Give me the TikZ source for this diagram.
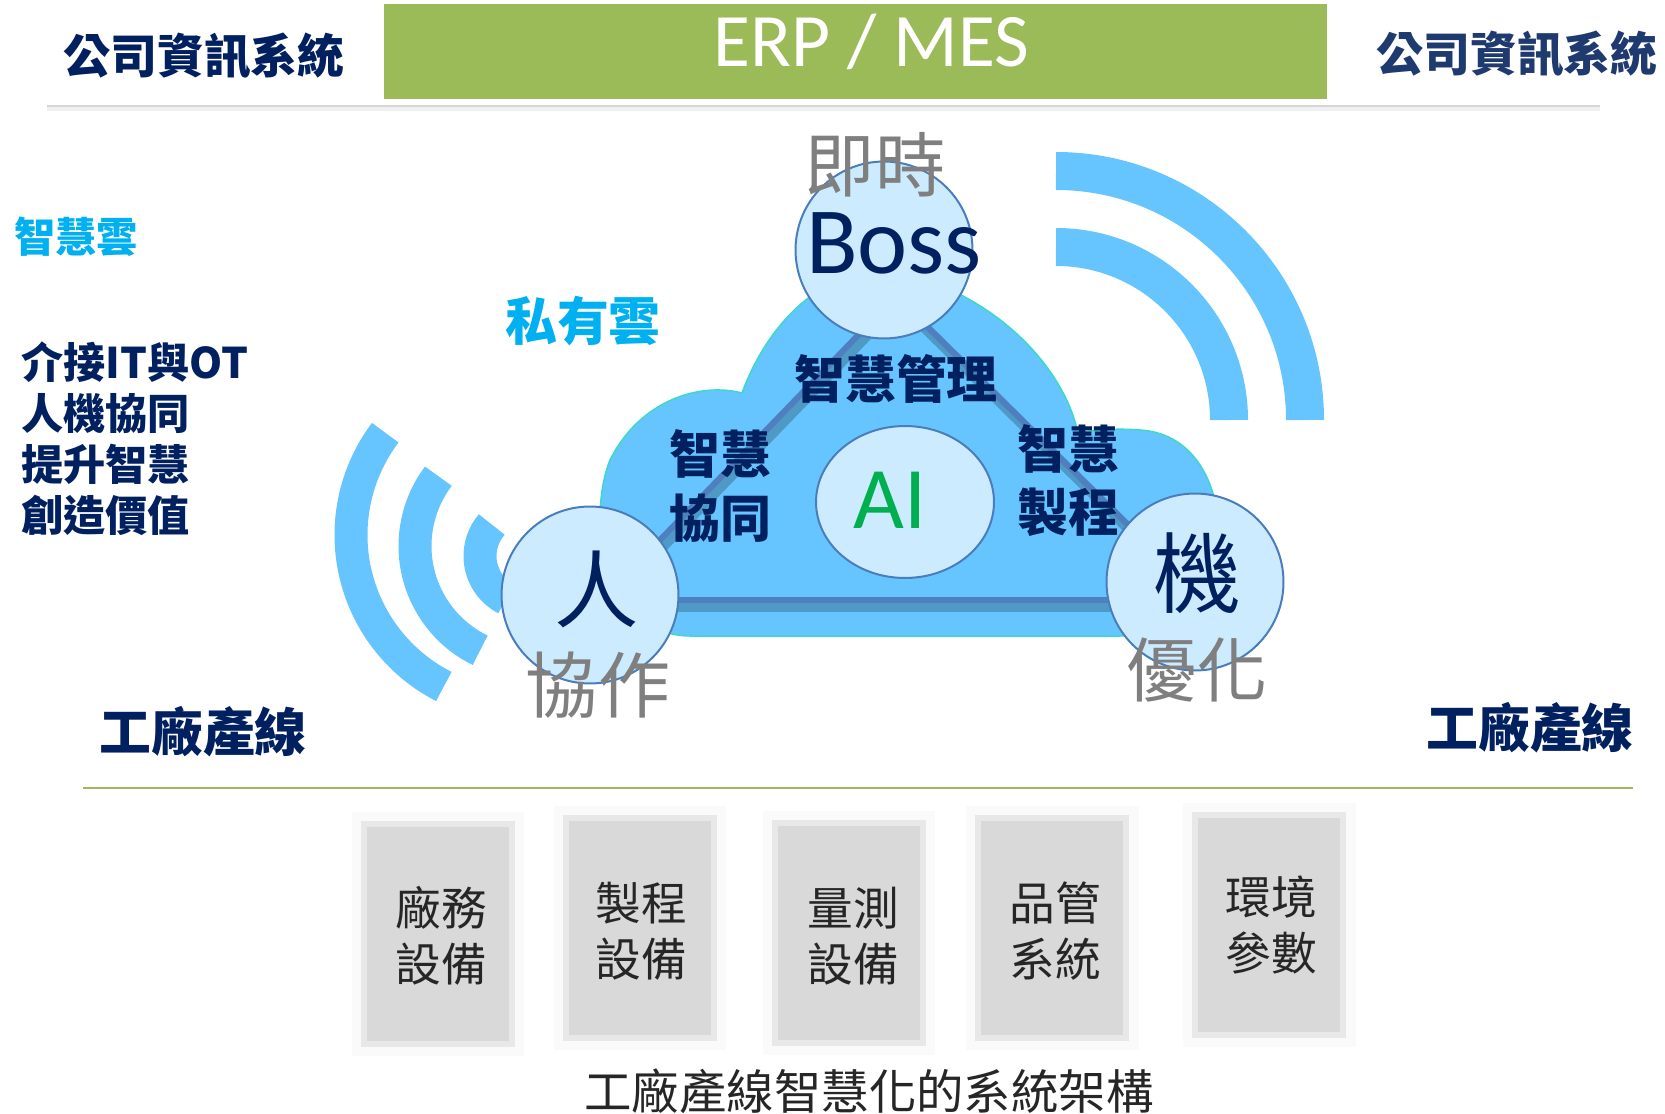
\documentclass[tikz,border=0pt]{standalone}
\usepackage{fontspec}
\setmainfont{Noto Sans CJK TC}
\newfontfamily\calibri{Carlito}
\usepackage{tikz}
\usetikzlibrary{shapes.geometric}

\definecolor{navy}{HTML}{002060}
\definecolor{deepblue}{HTML}{1F3A6E}
\definecolor{skytext}{HTML}{00B0F0}
\definecolor{erpgreen}{HTML}{9BBB59}
\definecolor{cloudblue}{HTML}{66C5FF}
\definecolor{cloudrim}{HTML}{3AD9C8}
\definecolor{bubblefill}{HTML}{CCEBFF}
\definecolor{bubblerim}{HTML}{4A7DBC}
\definecolor{linkblue}{HTML}{4F7FBE}
\definecolor{aigreen}{HTML}{00B050}
\definecolor{softgray}{HTML}{7F7F7F}
\definecolor{panelgray}{HTML}{D9D9D9}

\newcommand{\fs}[2]{\fontsize{#1}{#2}\selectfont}

\tikzset{
    bubble/.style={circle, fill=bubblefill, draw=bubblerim, line width=0.04cm,
        minimum size=3.54cm, inner sep=0pt},
    link/.style={linkblue, line width=0.12cm},
    linkshadow/.style={black, opacity=0.22, line width=0.22cm},
    wave/.style={cloudblue, line width=0.66cm},
    bigwave/.style={cloudblue, line width=0.76cm},
    panel/.style={rectangle, fill=panelgray, minimum width=2.96cm, minimum height=4.4cm,
        inner sep=0pt, preaction={draw=black!2, line width=0.5cm},
        postaction={draw=black!9, line width=0.12cm}},
    paneltext/.style={align=center, text=black!85, inner sep=0pt, font=\fs{26}{32}},
    title/.style={inner sep=0pt, font=\bfseries\fs{26.7}{30}},
    plant/.style={inner sep=0pt, text=navy, font=\bfseries\fs{29.5}{34}},
    skill/.style={inner sep=0pt, text=navy, align=center, font=\bfseries\fs{29}{36}},
    tag/.style={inner sep=0pt, text=softgray, font=\fs{40}{44}}
}

\begin{document}
\begin{tikzpicture}[x=0.02cm, y=-0.02cm]
    \useasboundingbox (0,0) rectangle (1665,1114);

    % header
    \fill[erpgreen] (384,4) rectangle (1327,99);
    \node[inner sep=0pt, text=white, font=\calibri\fs{43}{46}] (erp) at (871,42) {ERP / MES};
    \node[title, text=navy] (sysL) at (204,56) {公司資訊系統};
    \node[title, text=deepblue] (sysR) at (1517,54) {公司資訊系統};
    \draw[black!6, line width=0.1cm] (47,109) -- (1600,109);
    \draw[black!16, line width=0.05cm] (47,106) -- (1600,106);

    % left side text
    \node[inner sep=0pt, anchor=west, text=skytext, font=\bfseries\fs{23.5}{28}] (cloudname) at (14,237) {智慧雲};
    \node[inner sep=0pt, anchor=west, align=left, text=navy, font=\bfseries\fs{24}{29}] (goals) at (21,439)
        {介接IT與OT\\人機協同\\提升智慧\\創造價值};

    % signal waves
    \draw[wave] ([shift={(521,535)}]117:170) arc[start angle=117, end angle=217, radius=170];
    \draw[wave] ([shift={(531,546)}]116:116) arc[start angle=116, end angle=217, radius=116];
    \draw[wave] ([shift={(528,556)}]117:48) arc[start angle=117, end angle=221, radius=48];
    \draw[bigwave] ([shift={(1056,420)}]270:249) arc[start angle=270, end angle=360, radius=249];
    \draw[bigwave] ([shift={(1056,420)}]270:173) arc[start angle=270, end angle=360, radius=173];

    % private cloud
    \filldraw[fill=cloudblue, draw=cloudrim, line width=0.03cm]
        (690,636) -- (1120,636)
        .. controls (1190,636) and (1222,560) .. (1216,505)
        .. controls (1205,455) and (1175,432) .. (1140,430)
        .. controls (1115,428) and (1090,430) .. (1078,434)
        .. controls (1068,380) and (1010,300) .. (900,272)
        .. controls (820,262) and (765,330) .. (742,393)
        .. controls (700,382) and (640,400) .. (610,460)
        .. controls (590,510) and (600,600) .. (640,620)
        .. controls (660,632) and (675,636) .. (690,636) -- cycle;
    \node[inner sep=0pt, text=skytext, font=\bfseries\fs{29.5}{34}] (private) at (583,321) {私有雲};

    % triangle
    \coordinate (apex) at (896,296);
    \coordinate (lcorner) at (602,600);
    \coordinate (rcorner) at (1204,600);
    \coordinate (apexS) at (899,302);
    \coordinate (lcornerS) at (605,606);
    \coordinate (rcornerS) at (1207,606);
    \draw[linkshadow] (apexS) -- (lcornerS);
    \draw[linkshadow] (apexS) -- (rcornerS);
    \draw[linkshadow] (lcornerS) -- (rcornerS);
    \draw[link] (apex) -- (lcorner);
    \draw[link] (apex) -- (rcorner);
    \draw[link] (lcorner) -- (rcorner);

    \node[skill] (manage) at (896,379) {智慧管理};
    \node[skill] (collab) at (720,486) {智慧\\協同};
    \node[skill] (process) at (1068,481) {智慧\\製程};

    % circles
    \node[bubble] (boss) at (884,250) {};
    \node[bubble] (ren) at (590,595) {};
    \node[bubble] (ji) at (1195,582) {};
    \node[ellipse, fill=bubblefill, draw=bubblerim, line width=0.04cm,
        minimum width=3.56cm, minimum height=3.04cm, inner sep=0pt] (ai) at (905,502) {};

    \node[tag] (now) at (875,165) {即時};
    \node[inner sep=0pt, anchor=base, text=navy, font=\calibri\fs{54}{58}] (bossT) at (894,274) {Boss};
    \node[inner sep=0pt, anchor=base, text=aigreen, font=\calibri\fs{50}{54}] (aiT) at (890,528) {AI};
    \node[inner sep=0pt, text=navy, font=\fs{48}{52}] (renT) at (597,589) {人};
    \node[inner sep=0pt, text=navy, font=\fs{50}{54}] (jiT) at (1197,573) {機};
    \node[tag, font=\fs{41}{44}] (coop) at (598,685) {協作};
    \node[tag] (optim) at (1197,670) {優化};

    % production line
    \node[plant] (lineL) at (203,732) {工廠產線};
    \node[plant] (lineR) at (1530,728) {工廠產線};
    \draw[erpgreen, line width=0.04cm] (83,788) -- (1633,788);

    \node[panel] (p1) at (438,934) {};
    \node[panel] (p2) at (640,928) {};
    \node[panel] (p3) at (849,933) {};
    \node[panel] (p4) at (1052,928) {};
    \node[panel] (p5) at (1269,925) {};
    \node[paneltext] (t1) at (441,936) {廠務\\設備};
    \node[paneltext] (t2) at (641,931) {製程\\設備};
    \node[paneltext] (t3) at (853,936) {量測\\設備};
    \node[paneltext] (t4) at (1055,931) {品管\\系統};
    \node[paneltext] (t5) at (1271,925) {環境\\參數};

    \node[inner sep=0pt, text=black!85, font=\fs{27}{30}] (caption) at (869,1091) {工廠產線智慧化的系統架構};
\end{tikzpicture}
\end{document}
